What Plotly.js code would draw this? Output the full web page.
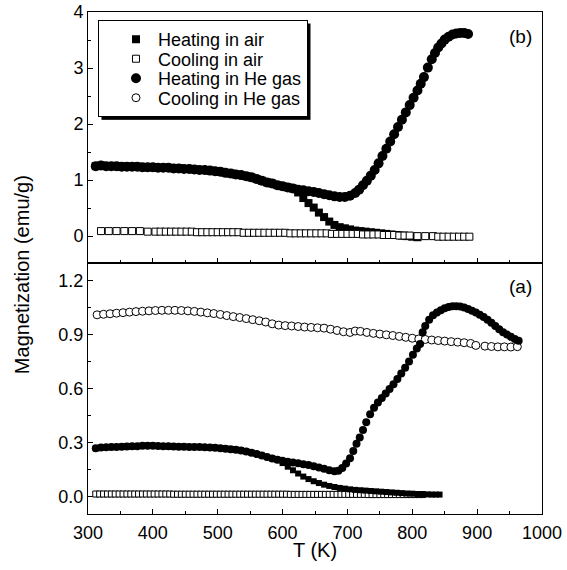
<!DOCTYPE html>
<html>
<head>
<meta charset="utf-8">
<script src="https://cdn.plot.ly/plotly-3.0.1.min.js"></script>
<style>
html,body{margin:0;padding:0;background:#fff;}
#plot{width:567px;height:570px;}
</style>
</head>
<body>
<div id="plot"></div>
<script>
// ---------- Panel (b): top ----------
const tHeatAirB = [312,320,328,336,344,352,360,368,376,384,
  392,400,408,416,424,432,440,448,456,464,
  472,480,488,496,504,512,520,528,536,544,
  552,560,568,576,584,592,600,608,616,
  624,632,640,648,656,664,672,680,688,696,
  704,712,720,728,736,744,752,760,768,776,
  784,792,800,808];
const mHeatAirB = [1.25,1.26,1.25,1.25,1.25,1.24,1.24,1.24,1.24,1.23,
  1.23,1.23,1.22,1.22,1.22,1.21,1.21,1.20,1.20,1.19,
  1.18,1.18,1.17,1.16,1.15,1.13,1.12,1.10,1.09,1.07,
  1.05,1.02,0.99,0.96,0.94,0.91,0.89,0.87,0.85,
  0.78,0.68,0.59,0.51,0.42,0.34,0.26,0.20,0.16,0.14,
  0.12,0.10,0.09,0.08,0.07,0.06,0.05,0.04,0.03,0.02,
  0.01,0.00,-0.01,-0.02];

const tCoolAirB = [320,332,344,356,368,380,392,404,412,420,
  428,436,444,452,460,468,476,484,492,500,
  508,516,524,532,540,548,556,564,572,580,
  588,596,604,612,620,628,636,644,652,660,
  668,676,684,692,700,708,716,724,732,740,
  748,756,764,772,780,788,796,808,820,832,
  840,848,856,864,872,880,888];
const mCoolAirB = [0.09,0.09,0.09,0.09,0.09,0.09,0.08,0.08,0.08,0.08,
  0.08,0.08,0.08,0.08,0.08,0.07,0.07,0.07,0.07,0.07,
  0.07,0.07,0.07,0.07,0.06,0.06,0.06,0.06,0.06,0.06,
  0.06,0.06,0.06,0.05,0.05,0.05,0.05,0.05,0.05,0.05,
  0.05,0.04,0.04,0.04,0.04,0.04,0.04,0.03,0.03,0.03,
  0.03,0.02,0.02,0.02,0.01,0.01,0.01,0.00,0.00,0.00,
  -0.01,-0.01,-0.01,-0.01,-0.01,-0.01,-0.01];

const tHeatHeB = [312,320,328,336,344,352,360,368,376,384,
  392,400,408,416,424,432,440,448,456,464,
  472,480,488,496,504,512,520,528,536,544,
  552,560,568,576,584,592,600,608,616,
  624,632,640,648,656,664,672,680,688,696,
  704,712,718,724,730,736,742,748,754,760,
  766,772,778,784,790,796,802,808,813,818,
  824,830,835,840,845,850,856,862,868,874,
  880,886];
const mHeatHeB = [1.25,1.26,1.25,1.25,1.25,1.24,1.24,1.24,1.24,1.23,
  1.23,1.23,1.22,1.22,1.22,1.21,1.21,1.20,1.20,1.19,
  1.18,1.18,1.17,1.16,1.15,1.13,1.12,1.10,1.09,1.07,
  1.05,1.02,0.99,0.96,0.94,0.91,0.89,0.87,0.85,
  0.83,0.82,0.80,0.79,0.77,0.75,0.73,0.71,0.70,0.70,
  0.72,0.77,0.83,0.91,0.99,1.08,1.18,1.30,1.43,1.56,
  1.69,1.82,1.95,2.08,2.21,2.34,2.47,2.60,2.72,2.84,
  3.01,3.16,3.27,3.37,3.44,3.51,3.56,3.60,3.62,3.63,
  3.63,3.61];

// ---------- Panel (a): bottom ----------
const tHeatAirA = [312,320,328,336,344,352,360,368,376,384,
  392,400,408,416,424,432,440,448,456,464,
  472,480,488,496,504,512,520,528,536,544,
  552,560,568,576,584,592,
  600,608,616,624,632,640,648,656,664,672,
  680,688,696,704,712,720,728,736,744,752,
  760,768,776,784,792,800,808,816,824,830,
  836,842];
const mHeatAirA = [0.270,0.274,0.276,0.277,0.278,0.279,0.280,0.281,0.282,0.284,
  0.285,0.284,0.283,0.282,0.281,0.280,0.279,0.279,0.278,0.278,
  0.277,0.276,0.275,0.273,0.271,0.268,0.265,0.262,0.258,0.253,
  0.246,0.238,0.230,0.222,0.214,0.207,
  0.188,0.168,0.148,0.130,0.113,0.099,0.087,0.077,0.068,0.061,
  0.055,0.050,0.046,0.042,0.039,0.037,0.035,0.033,0.031,0.029,
  0.027,0.025,0.023,0.021,0.019,0.018,0.016,0.015,0.014,0.013,
  0.013,0.013];

const tCoolAirA = [312,318,324,330,336,342,348,354,360,366,
  372,378,384,390,396,402,408,414,420,426,
  432,438,444,450,456,462,468,474,480,486,
  492,498,504,510,516,522,528,534,540,546,
  552,558,564,570,576,582,588,594,600,606,
  612,618,624,630,636,642,648,654,660,666,
  672,678,684,690,696,702,708,714,720,726,
  732,738,744,750,756,762,768,774,780,786,
  792,798,804,810,816];
const mCoolAirA = [0.016,0.016,0.016,0.016,0.016,0.016,0.016,0.016,0.016,0.016,
  0.016,0.016,0.016,0.016,0.016,0.016,0.016,0.016,0.016,0.016,
  0.015,0.015,0.015,0.015,0.015,0.015,0.015,0.015,0.015,0.015,
  0.015,0.015,0.015,0.015,0.015,0.015,0.015,0.015,0.015,0.015,
  0.015,0.015,0.015,0.015,0.015,0.015,0.015,0.015,0.015,0.015,
  0.014,0.014,0.014,0.014,0.014,0.014,0.014,0.014,0.014,0.014,
  0.014,0.014,0.014,0.014,0.014,0.014,0.014,0.014,0.014,0.014,
  0.013,0.013,0.013,0.013,0.013,0.013,0.013,0.013,0.013,0.013,
  0.013,0.013,0.013,0.013,0.013];

const tHeatHeA = [312,320,328,336,344,352,360,368,376,384,
  392,400,408,416,424,432,440,448,456,464,
  472,480,488,496,504,512,520,528,536,544,
  552,560,568,576,584,592,600,608,616,624,
  632,640,648,656,664,672,680,686,692,698,
  704,709,714,719,724,729,735,741,747,753,
  759,765,771,777,783,789,795,801,807,812,
  816,820,826,832,838,844,850,856,862,868,
  874,880,886,892,898,904,910,916,922,928,
  934,940,946,952,958,964];
const mHeatHeA = [0.270,0.274,0.276,0.277,0.278,0.279,0.280,0.281,0.282,0.284,
  0.285,0.284,0.283,0.282,0.281,0.280,0.279,0.279,0.278,0.278,
  0.277,0.276,0.275,0.273,0.271,0.268,0.265,0.262,0.258,0.253,
  0.246,0.238,0.230,0.222,0.214,0.207,0.201,0.196,0.191,0.187,
  0.182,0.177,0.171,0.164,0.156,0.148,0.143,0.145,0.160,0.185,
  0.215,0.255,0.295,0.330,0.372,0.415,0.460,0.495,0.525,0.550,
  0.575,0.600,0.626,0.655,0.686,0.718,0.752,0.790,0.825,0.850,
  0.915,0.950,0.985,1.010,1.025,1.038,1.048,1.055,1.059,1.060,
  1.058,1.052,1.045,1.035,1.025,1.012,1.000,0.985,0.968,0.950,
  0.932,0.915,0.902,0.890,0.878,0.868];

const tCoolHeA = [314,324,334,344,354,364,374,384,394,404,
  414,424,434,444,454,464,474,484,494,504,
  514,524,534,544,554,564,574,584,594,604,
  614,624,634,644,654,664,674,684,694,704,
  712,720,730,740,750,760,770,780,790,800,
  810,820,830,840,850,860,870,880,890,898,
  912,922,932,942,952,962];
const mCoolHeA = [1.012,1.015,1.018,1.021,1.024,1.027,1.030,1.032,1.034,1.036,
  1.037,1.037,1.037,1.036,1.034,1.031,1.027,1.023,1.019,1.014,
  1.008,1.002,0.997,0.991,0.985,0.979,0.972,0.962,0.955,0.952,
  0.950,0.947,0.944,0.942,0.940,0.938,0.932,0.925,0.918,0.914,
  0.922,0.920,0.914,0.909,0.905,0.901,0.897,0.892,0.887,0.882,
  0.878,0.875,0.872,0.869,0.866,0.863,0.860,0.857,0.853,0.842,
  0.838,0.836,0.834,0.834,0.833,0.835];

const seriesNames = ['Heating in air','Cooling in air','Heating in He gas','Cooling in He gas'];
const xTickLabels = ['300','400','500','600','700','800','900','1000'];

const FONT = 'Arial, "Liberation Sans", Helvetica, sans-serif';
const openSq = (s)=>({symbol:'square', size:s, color:'#ffffff', line:{color:'#000', width:1}});
const fillSq = (s)=>({symbol:'square', size:s, color:'#000', line:{width:0}});
const fillCi = (s)=>({symbol:'circle', size:s, color:'#000', line:{width:0}});
const openCi = (s)=>({symbol:'circle', size:s, color:'#ffffff', line:{color:'#000', width:1}});

const data = [
  {x:tHeatAirB, y:mHeatAirB, xaxis:'x2', yaxis:'y2', mode:'markers', type:'scatter', name:seriesNames[0], marker:fillSq(8), legendrank:1},
  {x:tCoolAirB, y:mCoolAirB, xaxis:'x2', yaxis:'y2', mode:'markers', type:'scatter', name:seriesNames[1], marker:openSq(7), legendrank:2},
  {x:tHeatHeB, y:mHeatHeB, xaxis:'x2', yaxis:'y2', mode:'markers', type:'scatter', name:seriesNames[2], marker:fillCi(10), legendrank:3},
  {x:tCoolAirA, y:mCoolAirA, xaxis:'x', yaxis:'y', mode:'markers', type:'scatter', name:seriesNames[1], showlegend:false, marker:openSq(6)},
  {x:tHeatAirA, y:mHeatAirA, xaxis:'x', yaxis:'y', mode:'markers', type:'scatter', name:seriesNames[0], showlegend:false, marker:fillSq(6)},
  {x:tCoolHeA, y:mCoolHeA, xaxis:'x', yaxis:'y', mode:'markers', type:'scatter', name:seriesNames[3], marker:openCi(8), legendrank:4},
  {x:tHeatHeA, y:mHeatHeA, xaxis:'x', yaxis:'y', mode:'markers', type:'scatter', name:seriesNames[2], showlegend:false, marker:fillCi(8)}
];

const axBase = {
  showline:true, linecolor:'#000', linewidth:1, mirror:true,
  showgrid:false, zeroline:false,
  ticks:'inside', ticklen:5, tickwidth:1, tickcolor:'#000',
  tickfont:{family:FONT, size:18, color:'#000'}
};

const layout = {
  width:567, height:570,
  margin:{l:88, r:25, t:12, b:56, pad:0},
  paper_bgcolor:'#fff', plot_bgcolor:'#fff',
  font:{family:FONT, color:'#000'},
  showlegend:true,
  legend:{x:0.022, y:0.984, xanchor:'left', yanchor:'top', bgcolor:'#fff', bordercolor:'#000', borderwidth:1,
    font:{family:FONT, size:18, color:'#000'}, itemwidth:34, indentation:15, tracegroupgap:0, traceorder:'normal'},
  xaxis:Object.assign({}, axBase, {domain:[0,1], anchor:'y', range:[300,1000], tickmode:'array',
    tickvals:[300,400,500,600,700,800,900,1000], ticktext:xTickLabels, ticklabelstandoff:2,
    minor:{ticks:'inside', ticklen:3, tickcolor:'#000', tickvals:[350,450,550,650,750,850,950]}}),
  xaxis2:Object.assign({}, axBase, {domain:[0,1], anchor:'y2', range:[300,1000], matches:'x', showticklabels:false,
    tickmode:'array', tickvals:[300,400,500,600,700,800,900,1000],
    minor:{ticks:'inside', ticklen:3, tickcolor:'#000', tickvals:[350,450,550,650,750,850,950]}}),
  yaxis:Object.assign({}, axBase, {domain:[0,0.5], anchor:'x', range:[-0.095,1.30], tick0:0, dtick:0.3, tickformat:'.1f',
    minor:{ticks:'inside', ticklen:3, tickcolor:'#000', dtick:0.15, tick0:0}}),
  yaxis2:Object.assign({}, axBase, {domain:[0.5,1], anchor:'x2', range:[-0.48,4.003], tick0:0, dtick:1,
    minor:{ticks:'inside', ticklen:3, tickcolor:'#000', dtick:0.5, tick0:0}}),
  annotations:[
    {text:'Magnetization (emu/g)', xref:'paper', yref:'paper', x:-0.1452, y:0.476, textangle:-90, showarrow:false,
      xanchor:'center', yanchor:'middle', font:{family:FONT, size:20, color:'#000'}},
    {text:'T (K)', xref:'paper', yref:'paper', x:0.5, y:-0.0717, showarrow:false, xanchor:'center', yanchor:'middle',
      font:{family:FONT, size:20, color:'#000'}},
    {text:'(b)', xref:'paper', yref:'paper', x:0.9527, y:0.952, showarrow:false, xanchor:'center', yanchor:'middle',
      font:{family:FONT, size:19, color:'#000'}},
    {text:'(a)', xref:'paper', yref:'paper', x:0.9527, y:0.454, showarrow:false, xanchor:'center', yanchor:'middle',
      font:{family:FONT, size:19, color:'#000'}}
  ]
};

Plotly.newPlot('plot', data, layout, {staticPlot:true, displayModeBar:false}).then(function(gd){
  const legend = gd.querySelector('.legend');
  if(!legend) return;
  const items = Array.from(legend.querySelectorAll('g.traces'));
  const parse = (s)=>{ const m = /translate\(\s*([-\d.e]+)[\s,]+([-\d.e]+)\s*\)/.exec(s||''); return m ? [+m[1], +m[2]] : [0,0]; };
  const pos = items.map(el=>parse(el.getAttribute('transform')));
  const step = 19.5;
  const origStep = pos.length > 1 ? pos[1][1] - pos[0][1] : step;
  items.forEach((el,i)=> el.setAttribute('transform', 'translate(' + pos[i][0] + ',' + (pos[0][1] + i*step) + ')'));
  const bg = legend.querySelector('rect.bg');
  if(!bg) return;
  const h = parseFloat(bg.getAttribute('height'));
  const newH = h - (items.length - 1) * (origStep - step);
  bg.setAttribute('height', newH);
  const sh = document.createElementNS('http://www.w3.org/2000/svg','rect');
  sh.setAttribute('x', parseFloat(bg.getAttribute('x') || 0) + 3);
  sh.setAttribute('y', parseFloat(bg.getAttribute('y') || 0) + 3);
  sh.setAttribute('width', bg.getAttribute('width'));
  sh.setAttribute('height', newH);
  sh.setAttribute('style', 'fill:#000;stroke:none');
  bg.parentNode.insertBefore(sh, bg);
});
</script>
</body>
</html>
